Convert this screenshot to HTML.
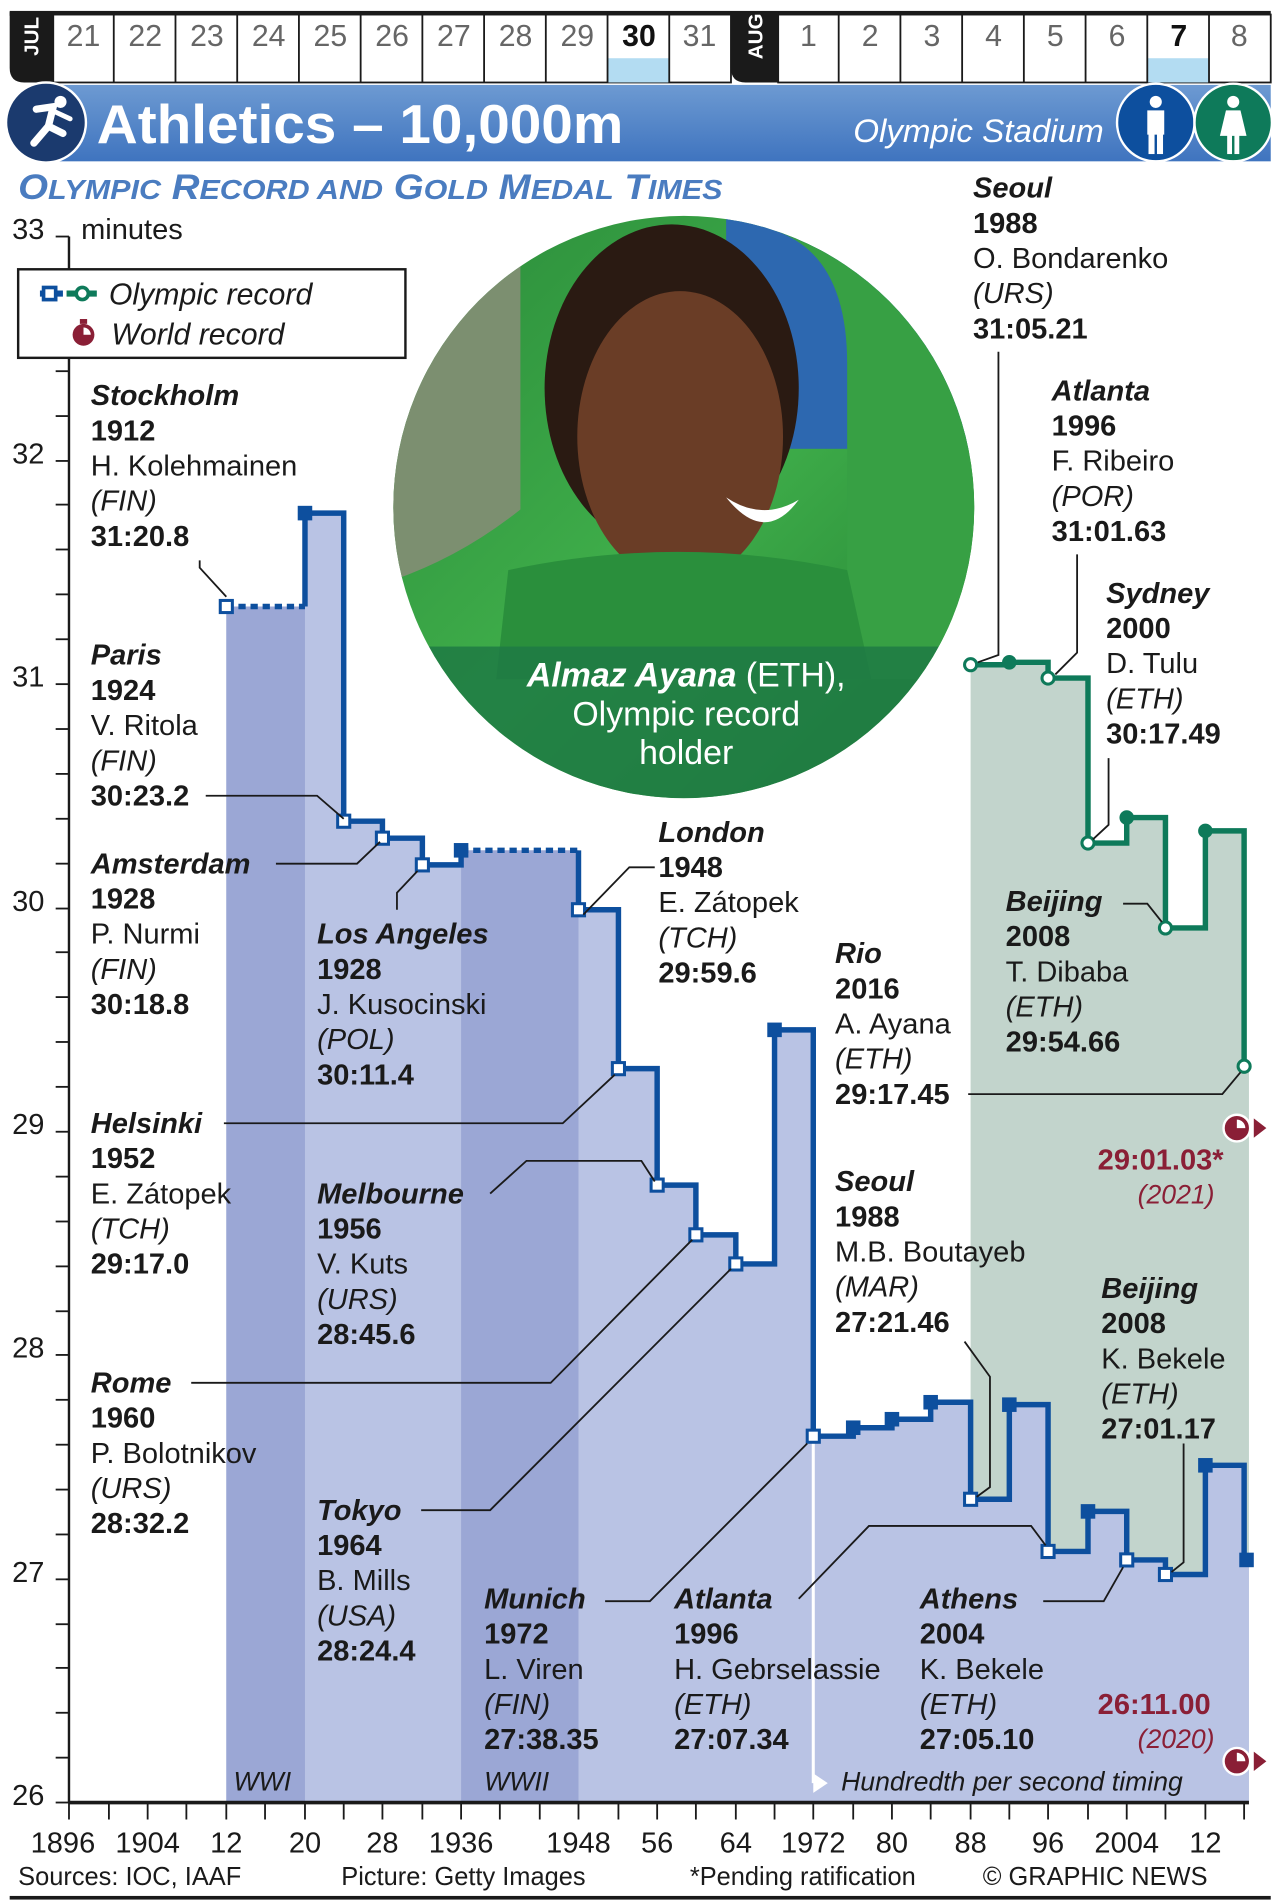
<!DOCTYPE html>
<html><head><meta charset="utf-8"><style>
html,body{margin:0;padding:0;background:#fff;}
svg{display:block;font-family:"Liberation Sans",Arial,sans-serif;}
</style></head><body>
<svg width="1278" height="1902" viewBox="0 0 1056 1568" preserveAspectRatio="none" xmlns="http://www.w3.org/2000/svg">
<defs>
<clipPath id="cp"><circle cx="565" cy="418" r="240"/></clipPath>
<linearGradient id="bg" x1="0" y1="0" x2="1" y2="1"><stop offset="0" stop-color="#2a8a3a"/><stop offset="0.5" stop-color="#3fae4a"/><stop offset="1" stop-color="#1f7a30"/></linearGradient>
<linearGradient id="ban" x1="0" y1="0" x2="0" y2="1"><stop offset="0" stop-color="#6d9ad2"/><stop offset="1" stop-color="#3f74bf"/></linearGradient>
</defs>
<!-- header date strip -->
<rect x="8" y="9" width="1042" height="4" fill="#1a1a1a"/>
<g fill="#fff" stroke="#1a1a1a" stroke-width="1.5">
<rect x="44" y="12" width="560" height="56"/><rect x="643" y="12" width="407" height="56"/>
</g>
<rect x="502" y="48" width="51" height="20" fill="#b3dcf2"/><rect x="948" y="48" width="51" height="20" fill="#b3dcf2"/>
<g stroke="#1a1a1a" stroke-width="1.5">
<line x1="94" y1="12" x2="94" y2="68"/><line x1="145" y1="12" x2="145" y2="68"/><line x1="196" y1="12" x2="196" y2="68"/><line x1="247" y1="12" x2="247" y2="68"/><line x1="298" y1="12" x2="298" y2="68"/><line x1="349" y1="12" x2="349" y2="68"/><line x1="400" y1="12" x2="400" y2="68"/><line x1="451" y1="12" x2="451" y2="68"/><line x1="502" y1="12" x2="502" y2="68"/><line x1="553" y1="12" x2="553" y2="68"/>
<line x1="693" y1="12" x2="693" y2="68"/><line x1="744" y1="12" x2="744" y2="68"/><line x1="795" y1="12" x2="795" y2="68"/><line x1="846" y1="12" x2="846" y2="68"/><line x1="897" y1="12" x2="897" y2="68"/><line x1="948" y1="12" x2="948" y2="68"/><line x1="999" y1="12" x2="999" y2="68"/>
</g>
<path d="M8,10 H44 V68 H20 Q8,68 8,56 Z" fill="#1a1a1a"/>
<path d="M604,10 H643 V68 H616 Q604,68 604,56 Z" fill="#1a1a1a"/>
<text transform="translate(32,30) rotate(-90)" text-anchor="middle" fill="#fff" font-size="17" font-weight="bold">JUL</text>
<text transform="translate(630,30) rotate(-90)" text-anchor="middle" fill="#fff" font-size="17" font-weight="bold">AUG</text>
<g font-size="25" fill="#666" text-anchor="middle">
<text x="69" y="38">21</text><text x="120" y="38">22</text><text x="171" y="38">23</text><text x="222" y="38">24</text><text x="273" y="38">25</text><text x="324" y="38">26</text><text x="375" y="38">27</text><text x="426" y="38">28</text><text x="477" y="38">29</text><text x="528" y="38" fill="#111" font-weight="bold">30</text><text x="578" y="38">31</text>
<text x="668" y="38">1</text><text x="719" y="38">2</text><text x="770" y="38">3</text><text x="821" y="38">4</text><text x="872" y="38">5</text><text x="923" y="38">6</text><text x="974" y="38" fill="#111" font-weight="bold">7</text><text x="1024" y="38">8</text>
</g>
<!-- banner -->
<rect x="30" y="70" width="1020" height="63" fill="url(#ban)"/>
<circle cx="38" cy="101" r="33" fill="#1b3a6e" stroke="#fff" stroke-width="2"/>
<g fill="#fff" stroke="#fff" stroke-linecap="round">
<circle cx="50" cy="84" r="5" stroke="none"/>
<path d="M30,90 L44,88 L40,104 L52,110" fill="none" stroke-width="6"/>
<path d="M40,104 L28,118" fill="none" stroke-width="6"/>
<path d="M45,92 L58,98" fill="none" stroke-width="4"/>
</g>
<text x="80" y="118" fill="#fff" font-size="45" font-weight="bold" textLength="435" lengthAdjust="spacingAndGlyphs">Athletics – 10,000m</text>
<text x="705" y="117" fill="#fff" font-size="27" font-style="italic" textLength="207" lengthAdjust="spacingAndGlyphs">Olympic Stadium</text>
<circle cx="955" cy="101" r="32" fill="#0d4f9e" stroke="#fff" stroke-width="2"/>
<circle cx="1019" cy="101" r="32" fill="#0e7a5a" stroke="#fff" stroke-width="2"/>
<g fill="#fff"><circle cx="955" cy="84" r="5"/><rect x="948" y="91" width="14" height="20"/><rect x="949" y="110" width="5" height="17"/><rect x="956" y="110" width="5" height="17"/>
<circle cx="1019" cy="84" r="5"/><path d="M1013,91 H1025 L1030,112 H1008 Z"/><rect x="1014" y="111" width="4" height="16"/><rect x="1020" y="111" width="4" height="16"/></g>
<text x="15" y="164" fill="#4a7cc0" font-size="29" font-weight="bold" font-style="italic" textLength="582" lengthAdjust="spacingAndGlyphs">O<tspan font-size="23">LYMPIC</tspan> R<tspan font-size="23">ECORD AND</tspan> G<tspan font-size="23">OLD</tspan> M<tspan font-size="23">EDAL</tspan> T<tspan font-size="23">IMES</tspan></text>

<!-- chart areas -->
<polygon fill="#c2d4cc" points="802,1486 802,548 834,548 834,546 866,546 866,559 899,559 899,695 931,695 931,674 963,674 963,765 996,765 996,685 1028,685 1028,879 1032,879 1032,1486"/>
<polygon fill="#b9c3e4" points="187,1486 187,500 252,500 252,423 284,423 284,677 316,677 316,691 349,691 349,713 381,713 381,701 478,701 478,750 511,750 511,881 543,881 543,977 575,977 575,1018 608,1018 608,1042 640,1042 640,849 672,849 672,1184 705,1184 705,1177 737,1177 737,1170 769,1170 769,1156 802,1156 802,1236 834,1236 834,1158 866,1158 866,1279 899,1279 899,1246 931,1246 931,1286 963,1286 963,1298 996,1298 996,1208 1028,1208 1028,1286 1032,1286 1032,1486"/>
<rect x="187" y="500" width="65" height="986" fill="#9ba7d5"/>
<rect x="381" y="701" width="97" height="785" fill="#9ba7d5"/>
<line x1="672" y1="1186" x2="672" y2="1470" stroke="#fff" stroke-width="2.5"/>
<path d="M672,1462 L684,1470 L672,1478 Z" fill="#fff"/>

<!-- axes -->
<line x1="57" y1="195" x2="57" y2="1486" stroke="#1a1a1a" stroke-width="2"/>
<g stroke="#1a1a1a" stroke-width="1.5">
<line x1="46" y1="195" x2="57" y2="195"/><line x1="46" y1="232" x2="57" y2="232"/><line x1="46" y1="269" x2="57" y2="269"/><line x1="46" y1="306" x2="57" y2="306"/><line x1="46" y1="343" x2="57" y2="343"/>
<line x1="46" y1="380" x2="57" y2="380"/><line x1="46" y1="416" x2="57" y2="416"/><line x1="46" y1="453" x2="57" y2="453"/><line x1="46" y1="490" x2="57" y2="490"/><line x1="46" y1="527" x2="57" y2="527"/>
<line x1="46" y1="564" x2="57" y2="564"/><line x1="46" y1="601" x2="57" y2="601"/><line x1="46" y1="638" x2="57" y2="638"/><line x1="46" y1="675" x2="57" y2="675"/><line x1="46" y1="712" x2="57" y2="712"/>
<line x1="46" y1="749" x2="57" y2="749"/><line x1="46" y1="785" x2="57" y2="785"/><line x1="46" y1="822" x2="57" y2="822"/><line x1="46" y1="859" x2="57" y2="859"/><line x1="46" y1="896" x2="57" y2="896"/>
<line x1="46" y1="933" x2="57" y2="933"/><line x1="46" y1="970" x2="57" y2="970"/><line x1="46" y1="1007" x2="57" y2="1007"/><line x1="46" y1="1044" x2="57" y2="1044"/><line x1="46" y1="1081" x2="57" y2="1081"/>
<line x1="46" y1="1117" x2="57" y2="1117"/><line x1="46" y1="1154" x2="57" y2="1154"/><line x1="46" y1="1191" x2="57" y2="1191"/><line x1="46" y1="1228" x2="57" y2="1228"/><line x1="46" y1="1265" x2="57" y2="1265"/>
<line x1="46" y1="1302" x2="57" y2="1302"/><line x1="46" y1="1339" x2="57" y2="1339"/><line x1="46" y1="1375" x2="57" y2="1375"/><line x1="46" y1="1412" x2="57" y2="1412"/><line x1="46" y1="1449" x2="57" y2="1449"/><line x1="46" y1="1486" x2="57" y2="1486"/>
</g>
<g font-size="24" fill="#1a1a1a">
<text x="10" y="197">33</text><text x="10" y="382">32</text><text x="10" y="566">31</text><text x="10" y="751">30</text><text x="10" y="935">29</text><text x="10" y="1119">28</text><text x="10" y="1304">27</text><text x="10" y="1488">26</text>
<text x="67" y="197">minutes</text>
</g>
<line x1="57" y1="1486" x2="1032" y2="1486" stroke="#1a1a1a" stroke-width="3"/>
<g stroke="#1a1a1a" stroke-width="1.5">
<line x1="57" y1="1486" x2="57" y2="1500"/><line x1="90" y1="1486" x2="90" y2="1500"/><line x1="122" y1="1486" x2="122" y2="1500"/><line x1="154" y1="1486" x2="154" y2="1500"/><line x1="187" y1="1486" x2="187" y2="1500"/><line x1="219" y1="1486" x2="219" y2="1500"/><line x1="252" y1="1486" x2="252" y2="1500"/><line x1="284" y1="1486" x2="284" y2="1500"/><line x1="316" y1="1486" x2="316" y2="1500"/><line x1="349" y1="1486" x2="349" y2="1500"/><line x1="381" y1="1486" x2="381" y2="1500"/><line x1="413" y1="1486" x2="413" y2="1500"/><line x1="446" y1="1486" x2="446" y2="1500"/><line x1="478" y1="1486" x2="478" y2="1500"/><line x1="511" y1="1486" x2="511" y2="1500"/><line x1="543" y1="1486" x2="543" y2="1500"/><line x1="575" y1="1486" x2="575" y2="1500"/><line x1="608" y1="1486" x2="608" y2="1500"/><line x1="640" y1="1486" x2="640" y2="1500"/><line x1="672" y1="1486" x2="672" y2="1500"/><line x1="705" y1="1486" x2="705" y2="1500"/><line x1="737" y1="1486" x2="737" y2="1500"/><line x1="769" y1="1486" x2="769" y2="1500"/><line x1="802" y1="1486" x2="802" y2="1500"/><line x1="834" y1="1486" x2="834" y2="1500"/><line x1="866" y1="1486" x2="866" y2="1500"/><line x1="899" y1="1486" x2="899" y2="1500"/><line x1="931" y1="1486" x2="931" y2="1500"/><line x1="963" y1="1486" x2="963" y2="1500"/><line x1="996" y1="1486" x2="996" y2="1500"/><line x1="1028" y1="1486" x2="1028" y2="1500"/>
</g>
<g font-size="24" fill="#1a1a1a" text-anchor="middle">
<text x="52" y="1527">1896</text><text x="122" y="1527">1904</text><text x="187" y="1527">12</text><text x="252" y="1527">20</text><text x="316" y="1527">28</text><text x="381" y="1527">1936</text><text x="478" y="1527">1948</text><text x="543" y="1527">56</text><text x="608" y="1527">64</text><text x="672" y="1527">1972</text><text x="737" y="1527">80</text><text x="802" y="1527">88</text><text x="866" y="1527">96</text><text x="931" y="1527">2004</text><text x="996" y="1527">12</text>
</g>
<g font-size="21" fill="#1a1a1a">
<text x="15" y="1554">Sources: IOC, IAAF</text><text x="282" y="1554">Picture: Getty Images</text><text x="570" y="1554">*Pending ratification</text><text x="812" y="1554">© GRAPHIC NEWS</text>
</g>
<rect x="8" y="1563" width="1042" height="3" fill="#1a1a1a"/>
<g font-size="22" font-style="italic" fill="#1a1a1a">
<text x="193" y="1476">WWI</text><text x="400" y="1476">WWII</text><text x="695" y="1476">Hundredth per second timing</text>
</g>

<!-- photo -->
<g clip-path="url(#cp)">
<rect x="320" y="170" width="500" height="500" fill="url(#bg)"/>
<rect x="600" y="170" width="220" height="200" fill="#2d68b0"/>
<path d="M640,190 Q700,210 700,300 L700,560 L820,560 L820,330 Q760,200 640,190Z" fill="#37a044"/>
<path d="M320,170 L430,170 L430,420 Q380,460 320,480 Z" fill="#7c8f70"/>
<ellipse cx="555" cy="320" rx="105" ry="135" fill="#2a1a12"/>
<ellipse cx="562" cy="360" rx="85" ry="120" fill="#6a3d26"/>
<path d="M600,410 Q630,430 660,412 Q632,450 600,410Z" fill="#fff"/>
<path d="M420,470 Q560,440 700,470 L720,560 L410,560 Z" fill="#2a8f3c"/>
<rect x="320" y="533" width="500" height="140" fill="#1e7a44" opacity="0.85"/>
</g>
<g fill="#fff" font-size="28" text-anchor="middle">
<text x="567" y="566"><tspan font-weight="bold" font-style="italic">Almaz Ayana</tspan> (ETH),</text>
<text x="567" y="598">Olympic record</text><text x="567" y="630">holder</text>
</g>

<!-- legend -->
<rect x="15" y="222" width="320" height="73" fill="#fff" stroke="#1a1a1a" stroke-width="2"/>
<line x1="33" y1="242" x2="52" y2="242" stroke="#0d4f9e" stroke-width="5"/><rect x="36" y="237" width="10" height="10" fill="#fff" stroke="#0d4f9e" stroke-width="3"/>
<line x1="55" y1="242" x2="80" y2="242" stroke="#0e7a5a" stroke-width="5"/><circle cx="68" cy="242" r="5" fill="#fff" stroke="#0e7a5a" stroke-width="3"/>
<circle cx="69" cy="276" r="9" fill="#8a1f36"/><rect x="66" y="263" width="6" height="4" fill="#8a1f36"/><path d="M69,276 V270 A6,6 0 0 1 75,276Z" fill="#fff"/>
<g font-size="25" font-style="italic" fill="#1a1a1a"><text x="90" y="251">Olympic record</text><text x="92" y="284">World record</text></g>

<!-- lines -->
<g fill="none" stroke-linejoin="miter">
<line x1="187" y1="500" x2="252" y2="500" stroke="#0d4f9e" stroke-width="4.5" stroke-dasharray="6,4"/>
<line x1="381" y1="701" x2="478" y2="701" stroke="#0d4f9e" stroke-width="4.5" stroke-dasharray="6,4"/>
<path d="M252,500 V423 H284 V677 H316 V691 H349 V713 H381 V701 M478,701 V750 H511 V881 H543 V977 H575 V1018 H608 V1042 H640 V849 H672 V1184 H705 V1177 H737 V1170 H769 V1156 H802 V1236 H834 V1158 H866 V1279 H899 V1246 H931 V1286 H963 V1298 H996 V1208 H1028 V1286" stroke="#0d4f9e" stroke-width="4.5"/>
<path d="M802,548 H834 V546 H866 V559 H899 V695 H931 V674 H963 V765 H996 V685 H1028 V879" stroke="#0e7a5a" stroke-width="4.5"/>
</g>
<g stroke="#0d4f9e" stroke-width="2.5" fill="#fff">
<rect x="182" y="495" width="10" height="10"/><rect x="279" y="672" width="10" height="10"/><rect x="311" y="686" width="10" height="10"/><rect x="344" y="708" width="10" height="10"/><rect x="473" y="745" width="10" height="10"/><rect x="506" y="876" width="10" height="10"/><rect x="538" y="972" width="10" height="10"/><rect x="570" y="1013" width="10" height="10"/><rect x="603" y="1037" width="10" height="10"/><rect x="667" y="1179" width="10" height="10"/><rect x="797" y="1231" width="10" height="10"/><rect x="861" y="1274" width="10" height="10"/><rect x="926" y="1281" width="10" height="10"/><rect x="958" y="1293" width="10" height="10"/>
</g>
<g fill="#0d4f9e">
<rect x="246" y="417" width="12" height="12"/><rect x="375" y="695" width="12" height="12"/><rect x="634" y="843" width="12" height="12"/><rect x="699" y="1171" width="12" height="12"/><rect x="731" y="1164" width="12" height="12"/><rect x="763" y="1150" width="12" height="12"/><rect x="828" y="1152" width="12" height="12"/><rect x="893" y="1240" width="12" height="12"/><rect x="990" y="1202" width="12" height="12"/><rect x="1024" y="1280" width="12" height="12"/>
</g>
<g stroke="#0e7a5a" stroke-width="2.5" fill="#fff">
<circle cx="802" cy="548" r="5"/><circle cx="866" cy="559" r="5"/><circle cx="899" cy="695" r="5"/><circle cx="963" cy="765" r="5"/><circle cx="1028" cy="879" r="5"/>
</g>
<g fill="#0e7a5a"><circle cx="834" cy="546" r="6"/><circle cx="931" cy="674" r="6"/><circle cx="996" cy="685" r="6"/></g>

<!-- world record icons -->
<g fill="#8a1f36" stroke="#fff" stroke-width="2"><circle cx="1022" cy="930" r="11"/><path d="M1035,920 L1048,930 L1035,940Z"/><circle cx="1022" cy="1452" r="11"/><path d="M1035,1442 L1048,1452 L1035,1462Z"/></g>
<g fill="#fff"><path d="M1022,930 V923 A7,7 0 0 1 1029,930Z"/><path d="M1022,1452 V1445 A7,7 0 0 1 1029,1452Z"/></g>
<g font-size="24" fill="#8a1f36"><text x="907" y="964" font-weight="bold">29:01.03*</text><text x="940" y="992" font-style="italic" font-size="22">(2021)</text><text x="907" y="1413" font-weight="bold">26:11.00</text><text x="940" y="1441" font-style="italic" font-size="22">(2020)</text></g>

<!-- leaders -->
<g fill="none" stroke="#1a1a1a" stroke-width="1.5">
<path d="M165,462 V468 L187,492"/>
<path d="M170,656 H262 L284,675"/>
<path d="M228,712 H295 L314,694"/>
<path d="M328,750 V736 L345,718"/>
<path d="M185,926 H465 L508,886"/>
<path d="M405,984 L435,957 H530 L541,974"/>
<path d="M158,1140 H455 L572,1022"/>
<path d="M348,1245 H405 L604,1046"/>
<path d="M500,1320 H537 L667,1190"/>
<path d="M660,1318 L718,1258 H852 L864,1274"/>
<path d="M862,1320 H912 L928,1292"/>
<path d="M541,715 H520 L482,754"/>
<path d="M800,902 H1010 L1025,884"/>
<path d="M797,1106 L818,1135 V1226 L807,1234"/>
<path d="M978,1190 V1288 L968,1296"/>
<path d="M825,290 V540 L808,546"/>
<path d="M890,457 V538 L872,556"/>
<path d="M916,625 V680 L903,692"/>
<path d="M928,745 H948 L960,760"/>
</g>

<!-- labels -->
<g font-size="24" fill="#1a1a1a">
<text x="75" y="334"><tspan font-weight="bold" font-style="italic">Stockholm</tspan><tspan x="75" dy="29" font-weight="bold">1912</tspan><tspan x="75" dy="29">H. Kolehmainen</tspan><tspan x="75" dy="29" font-style="italic">(FIN)</tspan><tspan x="75" dy="29" font-weight="bold">31:20.8</tspan></text>
<text x="75" y="548"><tspan font-weight="bold" font-style="italic">Paris</tspan><tspan x="75" dy="29" font-weight="bold">1924</tspan><tspan x="75" dy="29">V. Ritola</tspan><tspan x="75" dy="29" font-style="italic">(FIN)</tspan><tspan x="75" dy="29" font-weight="bold">30:23.2</tspan></text>
<text x="75" y="720"><tspan font-weight="bold" font-style="italic">Amsterdam</tspan><tspan x="75" dy="29" font-weight="bold">1928</tspan><tspan x="75" dy="29">P. Nurmi</tspan><tspan x="75" dy="29" font-style="italic">(FIN)</tspan><tspan x="75" dy="29" font-weight="bold">30:18.8</tspan></text>
<text x="262" y="778"><tspan font-weight="bold" font-style="italic">Los Angeles</tspan><tspan x="262" dy="29" font-weight="bold">1928</tspan><tspan x="262" dy="29">J. Kusocinski</tspan><tspan x="262" dy="29" font-style="italic">(POL)</tspan><tspan x="262" dy="29" font-weight="bold">30:11.4</tspan></text>
<text x="75" y="934"><tspan font-weight="bold" font-style="italic">Helsinki</tspan><tspan x="75" dy="29" font-weight="bold">1952</tspan><tspan x="75" dy="29">E. Zátopek</tspan><tspan x="75" dy="29" font-style="italic">(TCH)</tspan><tspan x="75" dy="29" font-weight="bold">29:17.0</tspan></text>
<text x="262" y="992"><tspan font-weight="bold" font-style="italic">Melbourne</tspan><tspan x="262" dy="29" font-weight="bold">1956</tspan><tspan x="262" dy="29">V. Kuts</tspan><tspan x="262" dy="29" font-style="italic">(URS)</tspan><tspan x="262" dy="29" font-weight="bold">28:45.6</tspan></text>
<text x="75" y="1148"><tspan font-weight="bold" font-style="italic">Rome</tspan><tspan x="75" dy="29" font-weight="bold">1960</tspan><tspan x="75" dy="29">P. Bolotnikov</tspan><tspan x="75" dy="29" font-style="italic">(URS)</tspan><tspan x="75" dy="29" font-weight="bold">28:32.2</tspan></text>
<text x="262" y="1253"><tspan font-weight="bold" font-style="italic">Tokyo</tspan><tspan x="262" dy="29" font-weight="bold">1964</tspan><tspan x="262" dy="29">B. Mills</tspan><tspan x="262" dy="29" font-style="italic">(USA)</tspan><tspan x="262" dy="29" font-weight="bold">28:24.4</tspan></text>
<text x="400" y="1326"><tspan font-weight="bold" font-style="italic">Munich</tspan><tspan x="400" dy="29" font-weight="bold">1972</tspan><tspan x="400" dy="29">L. Viren</tspan><tspan x="400" dy="29" font-style="italic">(FIN)</tspan><tspan x="400" dy="29" font-weight="bold">27:38.35</tspan></text>
<text x="557" y="1326"><tspan font-weight="bold" font-style="italic">Atlanta</tspan><tspan x="557" dy="29" font-weight="bold">1996</tspan><tspan x="557" dy="29">H. Gebrselassie</tspan><tspan x="557" dy="29" font-style="italic">(ETH)</tspan><tspan x="557" dy="29" font-weight="bold">27:07.34</tspan></text>
<text x="760" y="1326"><tspan font-weight="bold" font-style="italic">Athens</tspan><tspan x="760" dy="29" font-weight="bold">2004</tspan><tspan x="760" dy="29">K. Bekele</tspan><tspan x="760" dy="29" font-style="italic">(ETH)</tspan><tspan x="760" dy="29" font-weight="bold">27:05.10</tspan></text>
<text x="544" y="694"><tspan font-weight="bold" font-style="italic">London</tspan><tspan x="544" dy="29" font-weight="bold">1948</tspan><tspan x="544" dy="29">E. Zátopek</tspan><tspan x="544" dy="29" font-style="italic">(TCH)</tspan><tspan x="544" dy="29" font-weight="bold">29:59.6</tspan></text>
<text x="690" y="794"><tspan font-weight="bold" font-style="italic">Rio</tspan><tspan x="690" dy="29" font-weight="bold">2016</tspan><tspan x="690" dy="29">A. Ayana</tspan><tspan x="690" dy="29" font-style="italic">(ETH)</tspan><tspan x="690" dy="29" font-weight="bold">29:17.45</tspan></text>
<text x="690" y="982"><tspan font-weight="bold" font-style="italic">Seoul</tspan><tspan x="690" dy="29" font-weight="bold">1988</tspan><tspan x="690" dy="29">M.B. Boutayeb</tspan><tspan x="690" dy="29" font-style="italic">(MAR)</tspan><tspan x="690" dy="29" font-weight="bold">27:21.46</tspan></text>
<text x="910" y="1070"><tspan font-weight="bold" font-style="italic">Beijing</tspan><tspan x="910" dy="29" font-weight="bold">2008</tspan><tspan x="910" dy="29">K. Bekele</tspan><tspan x="910" dy="29" font-style="italic">(ETH)</tspan><tspan x="910" dy="29" font-weight="bold">27:01.17</tspan></text>
<text x="804" y="163"><tspan font-weight="bold" font-style="italic">Seoul</tspan><tspan x="804" dy="29" font-weight="bold">1988</tspan><tspan x="804" dy="29">O. Bondarenko</tspan><tspan x="804" dy="29" font-style="italic">(URS)</tspan><tspan x="804" dy="29" font-weight="bold">31:05.21</tspan></text>
<text x="869" y="330"><tspan font-weight="bold" font-style="italic">Atlanta</tspan><tspan x="869" dy="29" font-weight="bold">1996</tspan><tspan x="869" dy="29">F. Ribeiro</tspan><tspan x="869" dy="29" font-style="italic">(POR)</tspan><tspan x="869" dy="29" font-weight="bold">31:01.63</tspan></text>
<text x="914" y="497"><tspan font-weight="bold" font-style="italic">Sydney</tspan><tspan x="914" dy="29" font-weight="bold">2000</tspan><tspan x="914" dy="29">D. Tulu</tspan><tspan x="914" dy="29" font-style="italic">(ETH)</tspan><tspan x="914" dy="29" font-weight="bold">30:17.49</tspan></text>
<text x="831" y="751"><tspan font-weight="bold" font-style="italic">Beijing</tspan><tspan x="831" dy="29" font-weight="bold">2008</tspan><tspan x="831" dy="29">T. Dibaba</tspan><tspan x="831" dy="29" font-style="italic">(ETH)</tspan><tspan x="831" dy="29" font-weight="bold">29:54.66</tspan></text>
</g>
</svg>
</body></html>
